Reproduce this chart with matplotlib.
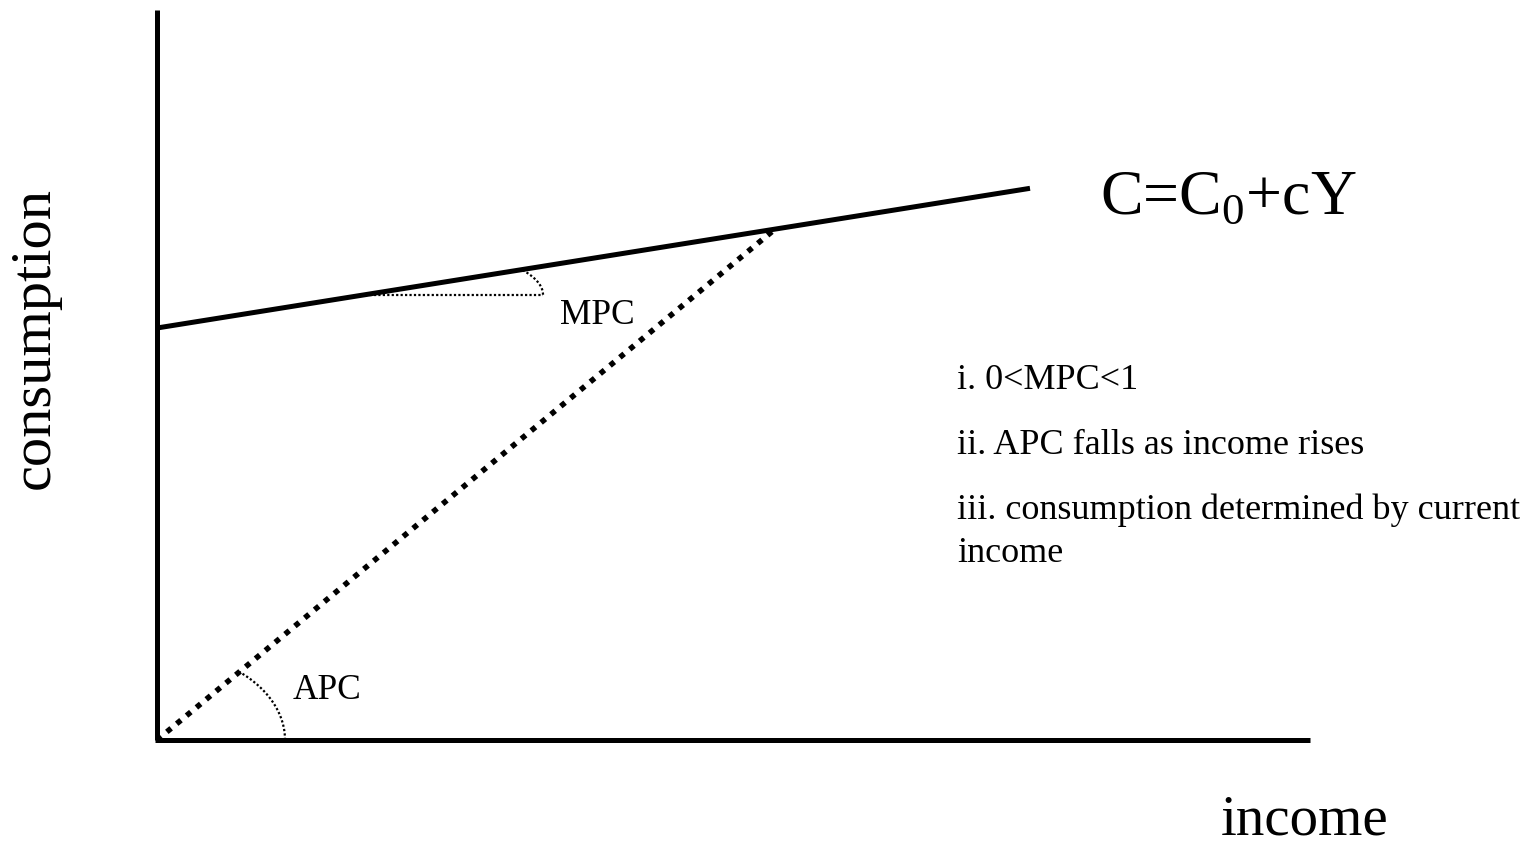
import numpy as np
import matplotlib
matplotlib.use("Agg")
import matplotlib.pyplot as plt

plt.rcParams['font.family'] = ['Liberation Serif', 'DejaVu Serif']
plt.rcParams['mathtext.fontset'] = 'custom'
plt.rcParams['mathtext.rm'] = 'Liberation Serif'

# Keynesian consumption function C = C0 + cY (units ~ picture pixels)
C0 = 412.0
c = 0.16
income_end = 873.0        # where the consumption line stops
income_apc = 618.0        # income where the APC ray meets the line
income_mpc = 208.0        # start of the MPC slope triangle
income_axis_max = 1153.0
cons_axis_max = 730.0

notes = [["i. 0<MPC<1"],
         ["ii. APC falls as income rises"],
         ["iii. consumption determined by current", "income"]]


def consumption(y):
    return C0 + c * y


fig = plt.figure(figsize=(15.31, 8.46), dpi=100)
ax = fig.add_axes([0, 0, 1, 1])
ax.set_xlim(-157, 1374)
ax.set_ylim(-106, 740)
ax.axis('off')

# axes
ax.plot([0, 0], [0, cons_axis_max], color='black', lw=3.6, solid_capstyle='butt')
ax.plot([-2, income_axis_max], [0, 0], color='black', lw=3.6, solid_capstyle='butt')

# consumption line
yy = np.array([0, income_end])
ax.plot(yy, consumption(yy), color='black', lw=3.6, solid_capstyle='butt')

# APC ray from origin
ax.plot([0, income_apc], [0, consumption(income_apc)], color='black', lw=4.0,
        linestyle=(0, (1, 1.3)))

# MPC triangle: horizontal + arc
mpc_a, mpc_b = 178.0, 53.0
c_mpc = consumption(income_mpc)
ax.plot([income_mpc, income_mpc + mpc_a], [c_mpc, c_mpc], color='black', lw=1.6,
        linestyle=(0, (1, 1)))
t_end = np.arctan(c * mpc_a / mpc_b)
t = np.linspace(0, t_end, 60)
ax.plot(income_mpc + mpc_a * np.cos(t), c_mpc + mpc_b * np.sin(t), color='black',
        lw=1.6, linestyle=(0, (1, 1)))

# APC arc at origin
apc_a, apc_b = 128.0, 89.0
apc_slope = consumption(income_apc) / income_apc
t_end = np.arctan(apc_slope * apc_a / apc_b)
t = np.linspace(0, t_end, 60)
ax.plot(apc_a * np.cos(t), apc_b * np.sin(t), color='black', lw=1.6,
        linestyle=(0, (1, 1)))

# labels
ax.text(403, 425, "MPC", fontsize=25.5, va='center', ha='left')
ax.text(136, 50, "APC", fontsize=25.5, va='center', ha='left')
ax.text(943, 527, r'C=C$_0$+cY', fontsize=46, va='baseline', ha='left')
ax.text(-122, 402, "consumption", fontsize=42, rotation=90, va='center', ha='center')
ax.text(1148, -94, "income", fontsize=41, va='baseline', ha='center')

y = 351
for note in notes:
    for line in note:
        ax.text(800, y, line, fontsize=26, va='baseline', ha='left')
        y -= 43
    y -= 22

fig.savefig("out.png", dpi=100)
